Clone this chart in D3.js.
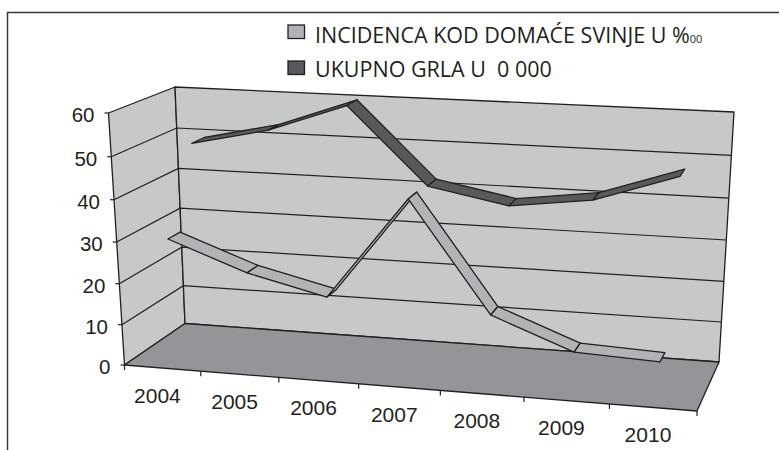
<!DOCTYPE html>
<html>
<head>
<meta charset="utf-8">
<script src="https://cdn.jsdelivr.net/npm/d3@7/dist/d3.min.js"></script>
<style>
body { margin: 0; background: #fff; }
svg { display: block; }
</style>
</head>
<body>
<div id="chart"></div>
<script>
// values
var years = ["2004", "2005", "2006", "2007", "2008", "2009", "2010"];
var incidenca = [29.7, 22.8, 18.3, 42.7, 16.8, 9.4, 8.6];
var ukupno = [49.2, 53.3, 60, 42.1, 38.5, 41, 47.6];
var yTicks = [0, 10, 20, 30, 40, 50, 60];
var legendNames = ["INCIDENCA KOD DOMAĆE SVINJE U %", "UKUPNO GRLA U  0 000"];

var w = 779;
var h = 450;

var ink = "#231f20";
var wallColor = "#c7c8ca";
var floorColor = "#939598";
var lightColor = "#b1b3b6";
var darkColor = "#58595b";

// corners of the 3D box in pixels: f = front, b = back, l/r = left/right, 0/1 = bottom/top
var box = {
	fl0: [124.5, 365], fl1: [108.5, 113],
	fr0: [697, 411],   fr1: [715, 146],
	bl0: [185, 323.5], bl1: [175, 87],
	br0: [719, 362],   br1: [734, 112]
};

// d3 scales give the flat 0..1 position, warp() adds the perspective squeeze
var xScale = d3.scaleBand().domain(years).range([0, 1]);
var yScale = d3.scaleLinear().domain([0, 60]).range([0, 1]);

function warp(t, c) {
	return t * (1 + c) / (1 + c * t);
}

function mix(a, b, k) {
	return [a[0] + (b[0] - a[0]) * k, a[1] + (b[1] - a[1]) * k];
}

// t along the category axis, v = value, z = depth (0 front, 1 back)
function project(t, v, z) {
	var f = warp(t, -0.077);
	var k = warp(yScale(v), -0.047);
	var bottom = mix(mix(box.fl0, box.fr0, f), mix(box.bl0, box.br0, f), z);
	var top = mix(mix(box.fl1, box.fr1, f), mix(box.bl1, box.br1, f), z);
	return mix(bottom, top, k);
}

function center(year) {
	return xScale(year) + xScale.bandwidth() / 2;
}

var poly = d3.line();

var svg = d3.select("#chart")
	.append("svg")
	.attr("width", w)
	.attr("height", h);

// outer frame, open at the right and the bottom of the crop
svg.append("path")
	.attr("d", "M7.5,450V12.5H779")
	.attr("fill", "none")
	.attr("stroke", "#3a3839")
	.attr("stroke-width", 1.5);

// walls and floor
var planes = [
	{ pts: [project(0, 0, 0), project(0, 60, 0), project(0, 60, 1), project(0, 0, 1)], fill: wallColor },
	{ pts: [project(0, 0, 1), project(0, 60, 1), project(1, 60, 1), project(1, 0, 1)], fill: wallColor },
	{ pts: [project(0, 0, 0), project(0, 0, 1), project(1, 0, 1), project(1, 0, 0)], fill: floorColor }
];

svg.selectAll(".plane")
	.data(planes)
	.enter()
	.append("path")
	.attr("class", "plane")
	.attr("d", function(d) { return poly(d.pts) + "Z"; })
	.attr("fill", function(d) { return d.fill; })
	.attr("stroke", ink)
	.attr("stroke-width", 1.3)
	.attr("stroke-linejoin", "round");

// gridlines run along the left wall and the back wall
svg.selectAll(".grid")
	.data(yTicks.slice(1, -1))
	.enter()
	.append("path")
	.attr("class", "grid")
	.attr("d", function(d) {
		return poly([project(0, d, 0), project(0, d, 1), project(1, d, 1)]);
	})
	.attr("fill", "none")
	.attr("stroke", ink)
	.attr("stroke-width", 1.2);

// y ticks and labels
svg.selectAll(".ytick")
	.data(yTicks)
	.enter()
	.append("line")
	.attr("class", "ytick")
	.attr("x1", function(d) { return project(0, d, 0)[0] - 4; })
	.attr("x2", function(d) { return project(0, d, 0)[0]; })
	.attr("y1", function(d) { return project(0, d, 0)[1]; })
	.attr("y2", function(d) { return project(0, d, 0)[1]; })
	.attr("stroke", ink)
	.attr("stroke-width", 1.2);

svg.selectAll(".ylabel")
	.data(yTicks)
	.enter()
	.append("text")
	.attr("class", "ylabel")
	.attr("x", function(d) { return project(0, d, 0)[0] - 14; })
	.attr("y", function(d) { return project(0, d, 0)[1] + 9; })
	.attr("text-anchor", "end")
	.attr("font-family", "Liberation Sans")
	.attr("font-size", 20.5)
	.attr("fill", ink)
	.text(function(d) { return d; });

// x ticks sit on the band edges
svg.selectAll(".xtick")
	.data(d3.range(years.length + 1))
	.enter()
	.append("line")
	.attr("class", "xtick")
	.attr("x1", function(d) { return project(d / years.length, 0, 0)[0]; })
	.attr("x2", function(d) { return project(d / years.length, 0, 0)[0]; })
	.attr("y1", function(d) { return project(d / years.length, 0, 0)[1]; })
	.attr("y2", function(d) { return project(d / years.length, 0, 0)[1] + 5; })
	.attr("stroke", ink)
	.attr("stroke-width", 1.2);

svg.selectAll(".xlabel")
	.data(years)
	.enter()
	.append("text")
	.attr("class", "xlabel")
	.attr("x", function(d) { return project(center(d), 0, 0)[0] - 5; })
	.attr("y", function(d) { return project(center(d), 0, 0)[1] + 34.5; })
	.attr("text-anchor", "middle")
	.attr("font-family", "Liberation Sans")
	.attr("font-size", 21)
	.attr("fill", ink)
	.text(function(d) { return d; });

// one ribbon per series, each segment its own quad
function ribbon(values, z0, z1, fill) {
	var segs = d3.pairs(values.map(function(v, i) { return { year: years[i], v: v }; }));
	svg.append("g")
		.selectAll("path")
		.data(segs)
		.enter()
		.append("path")
		.attr("d", function(d) {
			var ta = center(d[0].year), tb = center(d[1].year);
			return poly([
				project(ta, d[0].v, z0),
				project(ta, d[0].v, z1),
				project(tb, d[1].v, z1),
				project(tb, d[1].v, z0)
			]) + "Z";
		})
		.attr("fill", fill)
		.attr("stroke", ink)
		.attr("stroke-width", 1.3)
		.attr("stroke-linejoin", "round");
}

ribbon(ukupno, 0.65, 0.85, darkColor);
ribbon(incidenca, 0.2, 0.4, lightColor);

// legend
var legendColors = [lightColor, darkColor];
var swatchY = d3.scalePoint().domain(legendNames).range([25, 61]);
var legendY = d3.scalePoint().domain(legendNames).range([43, 77]);

var legend = svg.selectAll(".legend")
	.data(legendNames)
	.enter()
	.append("g")
	.attr("class", "legend");

legend.append("rect")
	.attr("x", 288)
	.attr("y", function(d) { return swatchY(d); })
	.attr("width", 16.5)
	.attr("height", 13.5)
	.attr("fill", function(d, i) { return legendColors[i]; })
	.attr("stroke", ink)
	.attr("stroke-width", 1.3);

var legendText = legend.append("text")
	.attr("x", 315)
	.attr("y", function(d) { return legendY(d); })
	.attr("font-family", "Open Sans")
	.attr("font-size", 21.5)
	.attr("fill", ink)
	.style("white-space", "pre")
	.text(function(d) { return d; });

// the small 00 after the per mille sign
legendText.filter(function(d, i) { return i === 0; })
	.append("tspan")
	.attr("font-size", 11)
	.text("00");
</script>
</body>
</html>
